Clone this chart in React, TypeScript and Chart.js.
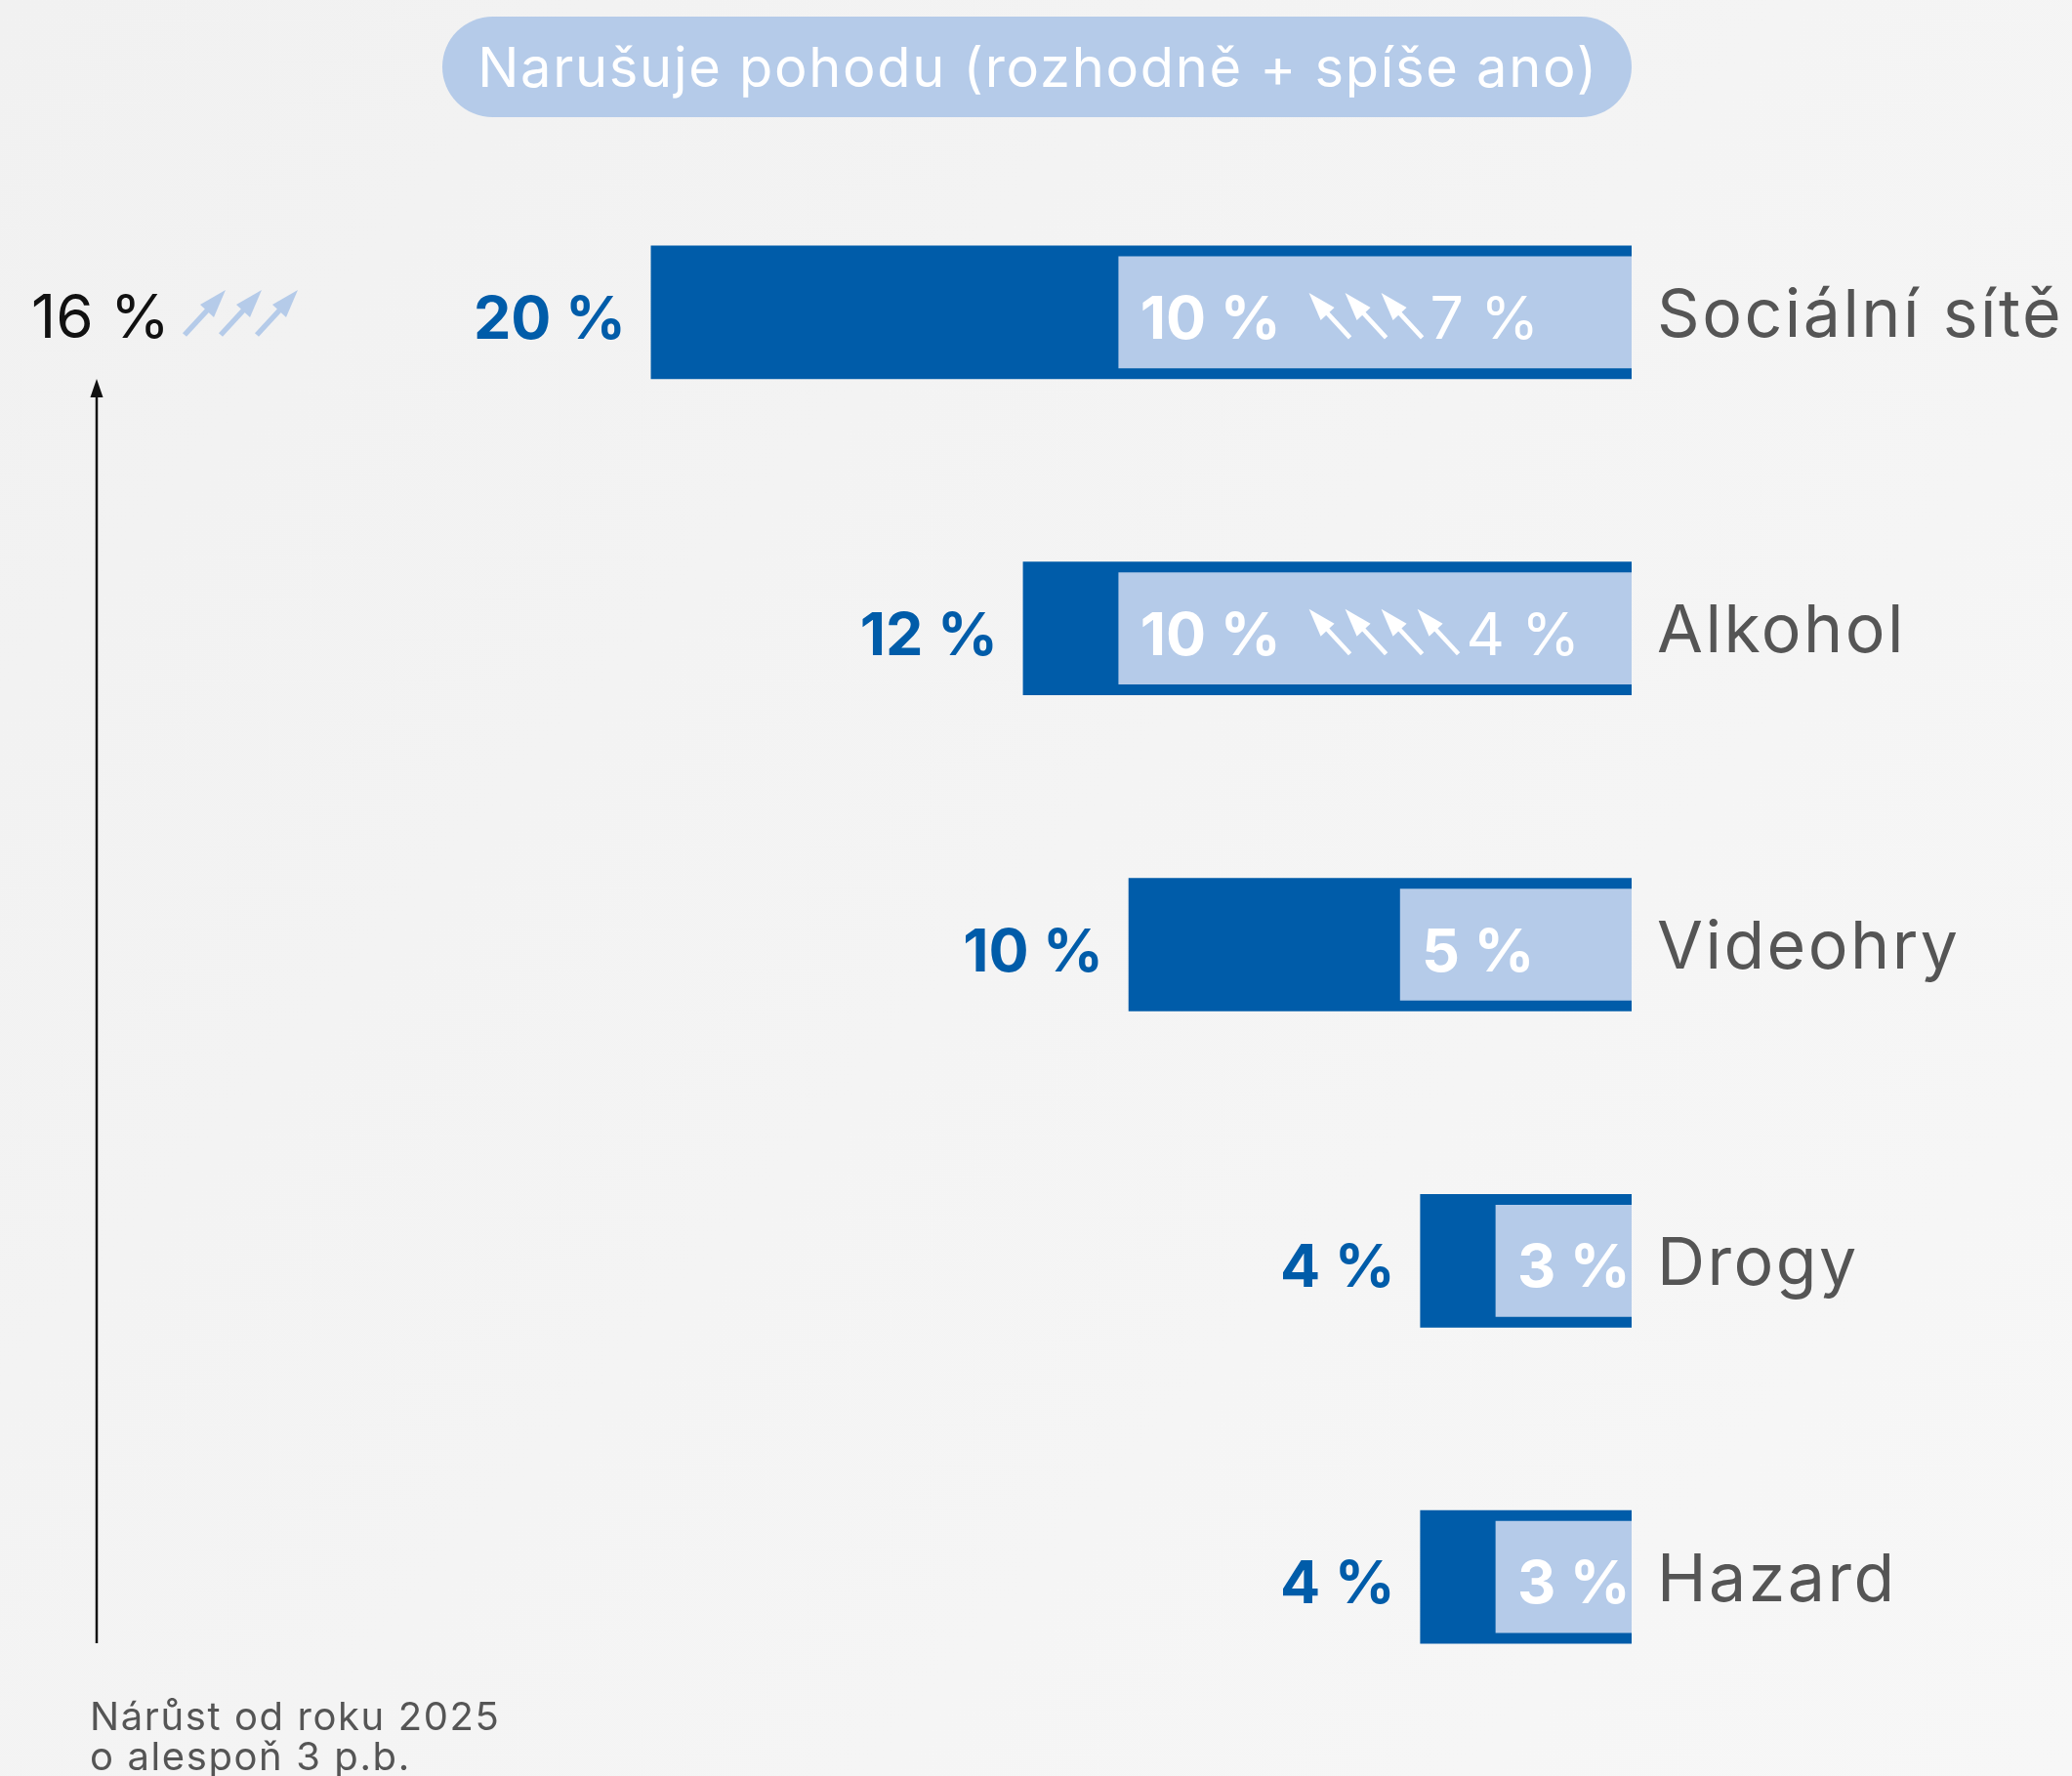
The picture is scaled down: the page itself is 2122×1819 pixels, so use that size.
import { useEffect, useRef } from 'react';
import { Chart, registerables } from 'chart.js';

Chart.register(...registerables);

const categories = ['Sociální sítě', 'Alkohol', 'Videohry', 'Drogy', 'Hazard'];
const totalValues = [19.5, 12.1, 10.0, 4.2, 4.2];
const strongValues = [10.2, 10.2, 4.6, 2.7, 2.7];
const totalLabels = ['20 %', '12 %', '10 %', '4 %', '4 %'];
const strongLabels = ['10 %', '10 %', '5 %', '3 %', '3 %'];
const growthArrowCounts = [3, 4, 0, 0, 0];
const growthLabels = ['7 %', '4 %', '', '', ''];
const titleText = 'Narušuje pohodu (rozhodně + spíše ano)';
const legendLines = ['Nárůst od roku 2025', 'o alespoň 3 p.b.'];
const scaleLabel = '16 %';
const scaleArrowCount = 3;

const DARK = '#005ca9';
const LIGHT = '#b5cbe9';
const FONT = 'Inter, "Noto Sans", sans-serif';
const CAP = 0.727;

function setSpacing(ctx: CanvasRenderingContext2D, px: number) {
  (ctx as any).letterSpacing = `${px}px`;
}

function drawArrow(ctx: CanvasRenderingContext2D, tipX: number, tipY: number, dir: number, color: string, w: number) {
  ctx.save();
  ctx.fillStyle = color;
  ctx.strokeStyle = color;
  ctx.lineWidth = w;
  ctx.lineCap = 'butt';
  ctx.beginPath();
  ctx.moveTo(tipX - dir * 18, tipY + 20);
  ctx.lineTo(tipX - dir * 42, tipY + 46);
  ctx.stroke();
  ctx.beginPath();
  ctx.moveTo(tipX, tipY);
  ctx.lineTo(tipX - dir * 26, tipY + 15);
  ctx.lineTo(tipX - dir * 12, tipY + 28);
  ctx.closePath();
  ctx.fill();
  ctx.restore();
}

const decorPlugin = {
  id: 'decor',
  beforeDraw(chart: any) {
    const ctx: CanvasRenderingContext2D = chart.ctx;
    const g = ctx.createLinearGradient(0, 0, chart.width, chart.height);
    g.addColorStop(0, '#f1f1f1');
    g.addColorStop(1, '#f7f7f7');
    ctx.save();
    ctx.fillStyle = g;
    ctx.fillRect(0, 0, chart.width, chart.height);
    ctx.restore();
  },
  afterDatasetsDraw(chart: any) {
    const ctx: CanvasRenderingContext2D = chart.ctx;
    const xs = chart.scales.x;
    const ys = chart.scales.y;
    const zero = xs.getPixelForValue(0);
    ctx.save();

    // title pill
    const pl = 453, pr = zero, pt = 17, pb = 120, r = (pb - pt) / 2;
    ctx.fillStyle = LIGHT;
    ctx.beginPath();
    ctx.moveTo(pl + r, pt);
    ctx.lineTo(pr - r, pt);
    ctx.arc(pr - r, pt + r, r, -Math.PI / 2, Math.PI / 2);
    ctx.lineTo(pl + r, pb);
    ctx.arc(pl + r, pt + r, r, Math.PI / 2, Math.PI * 1.5);
    ctx.closePath();
    ctx.fill();
    ctx.font = `400 56px ${FONT}`;
    setSpacing(ctx, 1.7);
    ctx.fillStyle = '#ffffff';
    ctx.textAlign = 'center';
    ctx.textBaseline = 'alphabetic';
    ctx.fillText(titleText, (pl + pr) / 2 + 1, (pt + pb) / 2 + (56 * CAP) / 2);
    setSpacing(ctx, 0);

    // rows
    categories.forEach((cat, i) => {
      const yc = ys.getPixelForValue(i);
      const darkLeft = xs.getPixelForValue(totalValues[i]);
      const lightLeft = xs.getPixelForValue(strongValues[i]);

      const vSize = 61;
      const base = yc + 5 + (vSize * CAP) / 2;
      ctx.font = `700 ${vSize}px ${FONT}`;
      ctx.fillStyle = DARK;
      ctx.textAlign = 'right';
      ctx.fillText(totalLabels[i], darkLeft - 26, base);

      ctx.textAlign = 'left';
      ctx.fillStyle = '#ffffff';
      let x = lightLeft + 22;
      ctx.fillText(strongLabels[i], x, base);
      x += ctx.measureText(strongLabels[i]).width;
      if (growthArrowCounts[i] > 0) {
        let tip = x + 29;
        for (let k = 0; k < growthArrowCounts[i]; k++) {
          drawArrow(ctx, tip, yc + 3 - 23, -1, '#ffffff', 4.5);
          tip += 37;
        }
        const tail = tip - 37 + 42;
        ctx.font = `400 ${vSize}px ${FONT}`;
        ctx.fillStyle = '#ffffff';
        ctx.fillText(growthLabels[i], tail + 8, base);
      }

      const cSize = 68;
      ctx.font = `400 ${cSize}px ${FONT}`;
      setSpacing(ctx, 2.5);
      ctx.fillStyle = '#555555';
      ctx.textAlign = 'left';
      ctx.fillText(cat, zero + 26, yc + (cSize * CAP) / 2);
      setSpacing(ctx, 0);
    });

    // left scale annotation
    ctx.font = `400 62px ${FONT}`;
    ctx.fillStyle = '#111111';
    ctx.textAlign = 'left';
    ctx.fillText(scaleLabel, 32, 346);
    for (let k = 0; k < scaleArrowCount; k++) {
      drawArrow(ctx, 231 + k * 37, 297, 1, LIGHT, 5.5);
    }

    // vertical arrow
    ctx.strokeStyle = '#111111';
    ctx.lineWidth = 2.5;
    ctx.beginPath();
    ctx.moveTo(99, 1683);
    ctx.lineTo(99, 402);
    ctx.stroke();
    ctx.fillStyle = '#111111';
    ctx.beginPath();
    ctx.moveTo(99, 388);
    ctx.lineTo(92.5, 407);
    ctx.lineTo(105.5, 407);
    ctx.closePath();
    ctx.fill();

    // legend text
    ctx.font = `400 40px ${FONT}`;
    setSpacing(ctx, 1.6);
    ctx.fillStyle = '#555555';
    ctx.fillText(legendLines[0], 92, 1772);
    ctx.fillText(legendLines[1], 92, 1813);
    setSpacing(ctx, 0);

    ctx.restore();
  },
};

export default function App() {
  const ref = useRef<HTMLCanvasElement>(null);
  useEffect(() => {
    const chart = new Chart(ref.current as HTMLCanvasElement, {
      type: 'bar',
      data: {
        labels: categories,
        datasets: [
          {
            label: 'Rozhodně ano',
            data: strongValues,
            backgroundColor: LIGHT,
            barThickness: 114,
            grouped: false,
            order: 0,
          } as any,
          {
            label: 'Rozhodně + spíše ano',
            data: totalValues,
            backgroundColor: DARK,
            barThickness: 136,
            grouped: false,
            order: 1,
          } as any,
        ],
      },
      options: {
        indexAxis: 'y',
        animation: false,
        responsive: true,
        maintainAspectRatio: false,
        devicePixelRatio: 1,
        layout: { padding: { left: 0, right: 451, top: 158, bottom: 42 } },
        scales: {
          x: { type: 'linear', reverse: true, min: 0, max: 32.45, display: false },
          y: { display: false },
        },
        plugins: { legend: { display: false }, tooltip: { enabled: false } },
      },
      plugins: [decorPlugin],
    });
    return () => chart.destroy();
  }, []);
  return (
    <div style={{ position: 'fixed', left: 0, top: 0, width: 2122, height: 1819 }}>
      <canvas ref={ref} />
    </div>
  );
}
